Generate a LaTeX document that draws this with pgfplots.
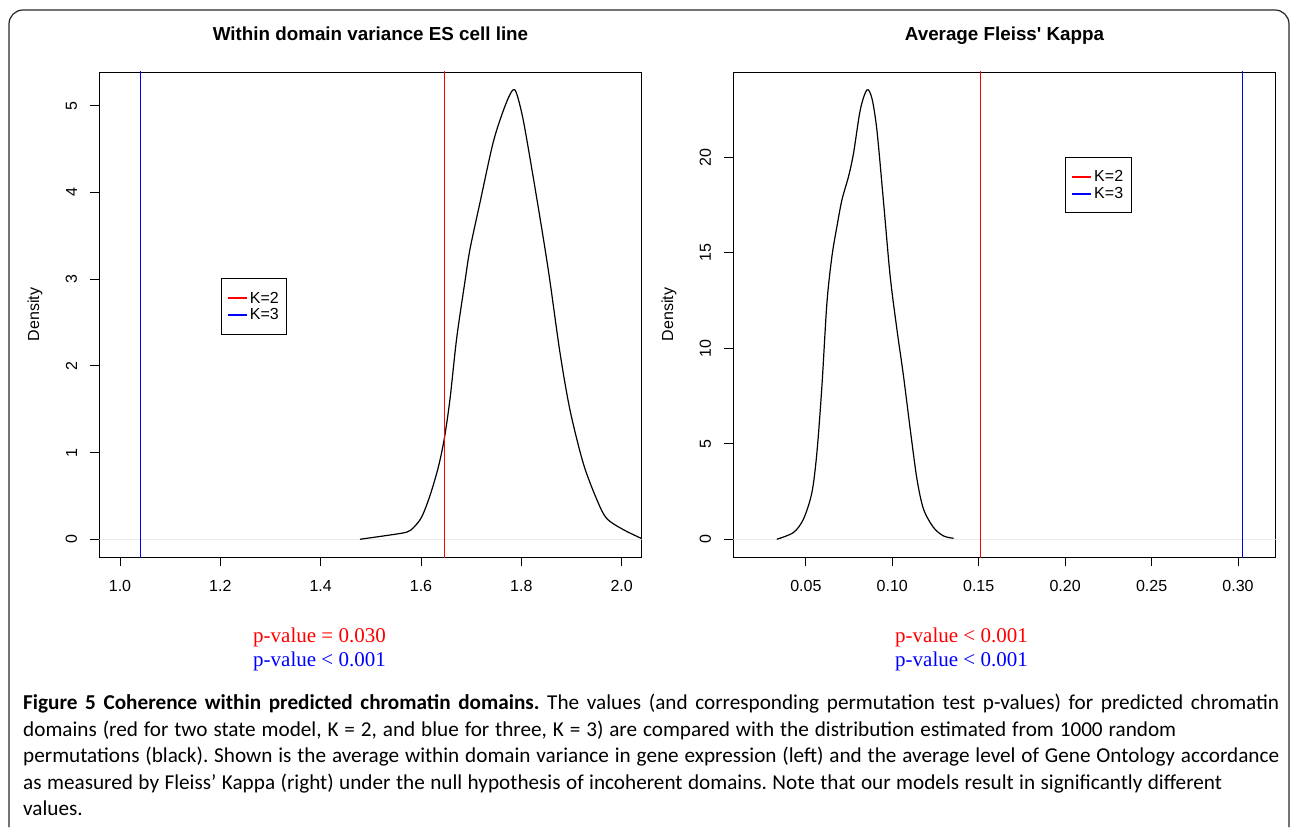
\documentclass[border=0pt]{standalone}
\usepackage{fontspec}
\usepackage{pgfplots}
\pgfplotsset{compat=1.18}
\newfontfamily\helv{Liberation Sans}
\newfontfamily\tms{Liberation Serif}
\newfontfamily\capf{Carlito}
\frenchspacing

% density estimates
\pgfplotstableread{
x y
1.4784 0
1.5382 0.049
1.5714 0.082
1.5847 0.132
1.6013 0.256
1.6179 0.503
1.6346 0.833
1.6465 1.162
1.6578 1.616
1.6711 2.317
1.6877 2.976
1.6977 3.347
1.7176 3.883
1.7442 4.584
1.7674 4.996
1.7827 5.181
1.7907 5.140
1.8040 4.831
1.8239 4.171
1.8439 3.471
1.8571 2.976
1.8771 2.152
1.8970 1.492
1.9236 0.874
1.9502 0.462
1.9701 0.240
2.0033 0.111
2.0399 0.008
}\esdens

\pgfplotstableread{
x y
0.0332 0
0.0428 0.35
0.0486 1.05
0.0535 2.44
0.0564 4.53
0.0593 8.01
0.0622 12.37
0.0651 14.81
0.0680 16.38
0.0709 17.77
0.0747 18.99
0.0776 20.21
0.0815 22.48
0.0853 23.52
0.0882 23.09
0.0911 21.43
0.0950 17.60
0.0988 13.76
0.1027 10.98
0.1065 8.54
0.1104 5.75
0.1143 3.14
0.1181 1.57
0.1239 0.61
0.1297 0.17
0.1355 0.05
}\kappadens

\pgfplotsset{
  rplot/.style={
    scale only axis, width=542.4pt, height=485.2pt,
    axis line style={black, line width=0.9pt},
    tick style={black, line width=0.9pt},
    tick align=outside, xtick pos=left, ytick pos=left,
    major tick length=9pt,
    ticklabel style={font=\helv\fontsize{16}{19}\selectfont, inner sep=0pt},
    xticklabel shift=14pt,
    yticklabel style={rotate=90, anchor=south},
    yticklabel shift=13pt,
    every axis title shift=0pt,
    title style={font=\helv\bfseries\fontsize{18.8}{22}\selectfont,
      at={(axis description cs:0.5,1)}, anchor=base, yshift=31.3pt},
    every axis y label/.style={at={(axis description cs:-0.1185,0.5)},
      rotate=90, anchor=center, font=\helv\fontsize{16}{19}\selectfont},
    legend image code/.code={\draw[##1, line width=1.8pt] (0pt,0pt) -- (19pt,0pt);},
    legend cell align=left,
    legend style={draw=black, line width=0.9pt, inner xsep=6pt, inner ysep=11pt,
      row sep=0pt, font=\helv\fontsize{16}{19}\selectfont,
      anchor=north west},
  }
}

\begin{document}
\begin{tikzpicture}
\useasboundingbox (0pt,0pt) rectangle (1290pt,827pt);

% left panel
\begin{axis}[rplot,
  at={(99.3pt,269.8pt)}, anchor=south west,
  xmin=0.9587, xmax=2.04, ymin=-0.207, ymax=5.39,
  xtick={1.0,1.2,1.4,1.6,1.8,2.0},
  xticklabels={1.0,1.2,1.4,1.6,1.8,2.0},
  ytick={0,1,2,3,4,5},
  yticklabels={0,1,2,3,4,5},
  title={Within domain variance ES cell line},
  ylabel={Density},
  legend style={at={(0.2238,0.5746)}},
]
\addplot[gray!15, line width=1pt, forget plot] coordinates {(0.9587,0) (2.04,0)};
\addplot[black, line width=1.2pt, smooth, tension=0.5, forget plot] table {\esdens};
\addplot[red, line width=1.2pt] coordinates {(1.6465,-1) (1.6465,6)};
\addplot[blue, line width=1.2pt] coordinates {(1.0407,-1) (1.0407,6)};
\legend{K=2,K=3}
\end{axis}

% right panel
\begin{axis}[rplot,
  at={(733.3pt,269.8pt)}, anchor=south west,
  xmin=0.00805, xmax=0.3218, ymin=-0.94, ymax=24.46,
  xtick={0.05,0.10,0.15,0.20,0.25,0.30},
  xticklabels={0.05,0.10,0.15,0.20,0.25,0.30},
  ytick={0,5,10,15,20},
  yticklabels={0,5,10,15,20},
  title={Average Fleiss' Kappa},
  ylabel={Density},
  legend style={at={(0.6115,0.8245)}},
]
\addplot[gray!15, line width=1pt, forget plot] coordinates {(0.00805,0) (0.3218,0)};
\addplot[black, line width=1.2pt, smooth, tension=0.5, forget plot] table {\kappadens};
\addplot[red, line width=1.2pt] coordinates {(0.151,-2) (0.151,30)};
\addplot[blue, line width=1.2pt] coordinates {(0.3025,-2) (0.3025,30)};
\legend{K=2,K=3}
\end{axis}

% permutation test p-values
\begin{scope}[every node/.style={anchor=west, inner sep=0pt, font=\tms\fontsize{21}{25}\selectfont}]
\node[text=red]  at (253pt,190pt) {p-value = 0.030};
\node[text=blue] at (253pt,166pt) {p-value < 0.001};
\node[text=red]  at (895pt,190pt) {p-value < 0.001};
\node[text=blue] at (895pt,166pt) {p-value < 0.001};
\end{scope}

% caption
\begin{scope}[every node/.style={anchor=base west, inner sep=0pt, font=\capf\fontsize{21.2}{26}\selectfont}]
\node at (23pt,117pt) {\makebox[1256pt][s]{\textbf{Figure 5 Coherence within predicted chromatin domains.} The values (and corresponding permutation test p-values) for predicted chromatin}};
\node at (23pt,90.5pt) {\makebox[1153pt][s]{domains (red for two state model, K = 2, and blue for three, K = 3) are compared with the distribution estimated from 1000 random}};
\node at (23pt,64pt) {\makebox[1256pt][s]{permutations (black). Shown is the average within domain variance in gene expression (left) and the average level of Gene Ontology accordance}};
\node at (23pt,37.5pt) {\makebox[1199pt][s]{as measured by Fleiss’ Kappa (right) under the null hypothesis of incoherent domains. Note that our models result in significantly different}};
\node at (23pt,11pt) {values.};
\end{scope}

% figure frame
\draw[line width=1.2pt, black!85] (9pt,0pt) -- (9pt,803pt)
  arc[start angle=180, end angle=90, radius=14pt] -- (1275pt,817pt)
  arc[start angle=90, end angle=0, radius=14pt] -- (1289pt,0pt);
\end{tikzpicture}
\end{document}
